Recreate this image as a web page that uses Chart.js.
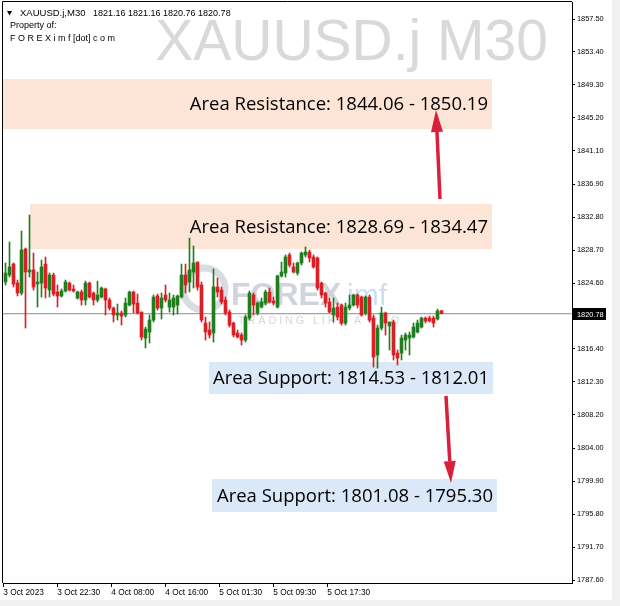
<!DOCTYPE html>
<html>
<head>
<meta charset="utf-8">
<script src="https://cdn.jsdelivr.net/npm/chart.js"></script>
<style>
  html, body { margin: 0; padding: 0; background: #fff; }
  #wrap { width: 620px; height: 606px; }
</style>
</head>
<body>
<div id="wrap"><canvas id="myChart" width="620" height="606"></canvas></div>
<script>
// XAUUSD.j M30 candles
const opens = [
  1824.73, 1825.60, 1826.97, 1824.60, 1823.36, 1828.84, 1825.98, 1826.23, 1824.48, 1824.60,
  1826.97, 1823.73, 1825.60, 1823.48, 1822.99, 1823.61, 1824.60, 1823.86, 1822.74, 1823.48,
  1822.49, 1824.60, 1823.36, 1822.49, 1822.86, 1823.86, 1822.49, 1821.49, 1820.62, 1820.87,
  1820.62, 1821.86, 1823.48, 1822.11, 1820.99, 1817.75, 1818.50, 1819.99, 1822.99, 1821.49,
  1823.11, 1821.61, 1821.61, 1821.86, 1822.86, 1825.60, 1824.73, 1825.98, 1827.22, 1824.36,
  1819.62, 1818.75, 1818.38, 1824.11, 1823.73, 1822.49, 1820.99, 1819.62, 1818.38, 1818.13,
  1817.50, 1820.24, 1823.11, 1820.87, 1821.61, 1822.11, 1823.48, 1822.36, 1821.61, 1825.48,
  1825.85, 1828.10, 1826.60, 1825.85, 1827.10, 1828.10, 1828.47, 1827.85, 1827.72, 1824.60,
  1823.36, 1822.24, 1820.62, 1821.61, 1821.86, 1819.62, 1821.49, 1821.86, 1823.11, 1822.86,
  1820.87, 1822.86, 1820.24, 1815.63, 1819.00, 1820.87, 1819.25, 1819.75, 1815.88, 1815.88,
  1817.50, 1817.75, 1817.88, 1818.50, 1819.12, 1820.24, 1820.24, 1820.24, 1820.12, 1821.16
];
const highs = [
  1827.10, 1829.71, 1827.10, 1824.98, 1831.09, 1828.97, 1833.08, 1828.34, 1825.98, 1827.47,
  1827.85, 1825.85, 1825.85, 1824.36, 1823.86, 1824.98, 1824.73, 1824.36, 1823.61, 1823.73,
  1824.85, 1824.73, 1823.48, 1824.85, 1824.11, 1823.98, 1822.74, 1821.61, 1821.99, 1821.12,
  1822.74, 1823.61, 1823.61, 1823.23, 1820.99, 1819.12, 1820.62, 1823.11, 1823.23, 1823.36,
  1824.36, 1823.36, 1823.11, 1823.11, 1826.97, 1826.97, 1830.21, 1829.22, 1827.22, 1824.73,
  1820.37, 1819.75, 1826.35, 1825.23, 1824.11, 1822.86, 1821.24, 1819.75, 1818.75, 1818.38,
  1820.62, 1823.61, 1823.36, 1822.24, 1822.74, 1823.73, 1823.98, 1822.86, 1825.60, 1827.22,
  1828.10, 1828.34, 1827.10, 1827.22, 1828.47, 1829.09, 1828.72, 1828.10, 1827.85, 1824.73,
  1823.48, 1822.74, 1822.74, 1822.11, 1821.99, 1822.11, 1823.11, 1823.23, 1823.23, 1822.99,
  1822.99, 1823.11, 1820.62, 1819.37, 1821.61, 1820.99, 1819.75, 1819.99, 1816.26, 1818.13,
  1818.38, 1818.50, 1819.62, 1819.99, 1820.37, 1820.37, 1820.49, 1820.49, 1821.36, 1821.16
];
const lows = [
  1824.36, 1825.35, 1824.11, 1822.99, 1823.11, 1819.00, 1825.35, 1823.73, 1821.61, 1822.86,
  1822.74, 1822.86, 1822.99, 1821.61, 1822.86, 1823.48, 1823.61, 1823.48, 1822.61, 1821.86,
  1821.86, 1822.74, 1821.86, 1822.24, 1822.74, 1820.62, 1821.24, 1819.75, 1819.99, 1819.37,
  1820.37, 1821.74, 1820.87, 1820.74, 1817.50, 1816.51, 1817.13, 1819.75, 1821.24, 1820.12,
  1822.24, 1820.99, 1820.62, 1820.74, 1822.74, 1823.36, 1823.48, 1823.98, 1823.73, 1819.75,
  1817.50, 1817.75, 1817.25, 1822.86, 1821.99, 1820.62, 1819.12, 1817.88, 1817.75, 1816.88,
  1817.25, 1819.99, 1820.62, 1820.62, 1821.49, 1821.86, 1822.11, 1821.86, 1821.49, 1825.35,
  1825.35, 1826.60, 1825.85, 1825.60, 1826.85, 1827.85, 1827.22, 1826.47, 1823.73, 1822.74,
  1821.61, 1820.87, 1819.75, 1819.99, 1819.37, 1819.37, 1821.24, 1821.74, 1821.49, 1820.49,
  1820.62, 1819.75, 1814.14, 1814.01, 1818.75, 1818.13, 1816.26, 1815.01, 1814.39, 1815.01,
  1816.26, 1815.63, 1817.75, 1818.38, 1819.00, 1819.62, 1819.75, 1819.12, 1819.99, 1820.76
];
const closes = [
  1825.85, 1826.60, 1824.48, 1823.36, 1828.72, 1825.98, 1826.23, 1824.11, 1824.73, 1826.60,
  1823.98, 1825.60, 1823.23, 1822.99, 1823.61, 1824.73, 1823.73, 1823.61, 1823.48, 1822.49,
  1824.60, 1822.86, 1822.49, 1823.11, 1823.98, 1822.49, 1821.49, 1820.62, 1820.87, 1820.49,
  1822.11, 1823.48, 1821.99, 1820.87, 1817.88, 1818.87, 1819.99, 1822.86, 1821.49, 1822.74,
  1822.49, 1822.49, 1822.74, 1822.99, 1825.60, 1824.36, 1826.23, 1827.10, 1824.11, 1819.99,
  1818.50, 1818.13, 1824.11, 1823.48, 1822.24, 1820.87, 1819.37, 1818.13, 1817.88, 1817.50,
  1820.37, 1823.36, 1821.86, 1822.11, 1822.24, 1823.48, 1822.24, 1822.11, 1825.48, 1825.98,
  1827.85, 1826.85, 1825.98, 1827.10, 1828.34, 1828.47, 1827.72, 1826.60, 1823.98, 1823.11,
  1822.11, 1820.99, 1821.49, 1820.37, 1819.62, 1821.61, 1821.86, 1823.11, 1821.86, 1820.62,
  1822.86, 1819.99, 1815.38, 1819.00, 1820.87, 1819.62, 1819.75, 1815.63, 1815.26, 1817.75,
  1818.13, 1818.13, 1819.12, 1819.62, 1820.24, 1819.87, 1819.87, 1819.62, 1821.12, 1820.78
];

const timeLabels = ['3 Oct 2023', '3 Oct 22:30', '4 Oct 08:00', '4 Oct 16:00', '5 Oct 01:30', '5 Oct 09:30', '5 Oct 17:30'];
const priceTicks = [1787.60, 1791.70, 1795.80, 1799.90, 1804.00, 1808.20, 1812.30, 1816.40,
  1824.60, 1828.70, 1832.80, 1836.90, 1841.10, 1845.20, 1849.30, 1853.40, 1857.50];

// drawn zones (as placed on the screenshot) and their captions
const zoneLabels = ['Area Resistance: 1844.06 - 1850.19', 'Area Resistance: 1828.69 - 1834.47',
  'Area Support: 1814.53 - 1812.01', 'Area Support: 1801.08 - 1795.30'];
const zoneKinds = ['res', 'res', 'sup', 'sup'];
const zoneTops = [1850.02, 1834.45, 1814.76, 1800.18];
const zoneBottoms = [1843.79, 1828.84, 1810.78, 1796.07];
const zoneFrom = [-0.625, 6.125, 50.875, 51.625];
const zoneTo = [121.625, 121.625, 121.875, 122.875];

// arrows: [bar index, price] tail -> head
const arrowTails = [[108.625, 1835.07], [110.125, 1810.53]];
const arrowHeads = [[107.625, 1846.16], [111.375, 1799.69]];

const X_MIN = -0.625, X_MAX = 141.625;
const Y_MIN = 1787.23, Y_MAX = 1859.62;
const UP = '#1f7f1f', DOWN = '#dc1f26';
const AXIS_FONT = '"Liberation Sans"';

const last = closes.length - 1;
const candleColors = opens.map((o, i) => closes[i] >= o ? UP : DOWN);

const backdrop = {
  id: 'backdrop',
  beforeDraw(chart) {
    const ctx = chart.ctx;
    ctx.save();
    ctx.fillStyle = '#fff';
    ctx.fillRect(0, 0, chart.width, chart.height);
    ctx.restore();
  },
  beforeDatasetsDraw(chart) {
    const { ctx, scales: { x, y } } = chart;
    ctx.save();
    // symbol watermark
    ctx.fillStyle = '#d9d9d9';
    ctx.font = '57px "Liberation Sans"';
    ctx.textAlign = 'right';
    ctx.textBaseline = 'alphabetic';
    ctx.fillText('XAUUSD.j M30', 548, 60);
    // logo watermark
    ctx.strokeStyle = '#d8dce3';
    ctx.lineWidth = 7;
    ctx.beginPath();
    ctx.arc(204, 289, 21, 0.55 * Math.PI, 2.35 * Math.PI);
    ctx.stroke();
    ctx.textAlign = 'left';
    ctx.font = 'bold 32px "Liberation Sans"';
    ctx.fillStyle = '#d0d4dc';
    ctx.fillText('FOREX', 231, 305);
    ctx.font = '30px "Liberation Sans"';
    ctx.fillStyle = '#cadff0';
    ctx.fillText('imf', 347, 305);
    ctx.font = '11px "Liberation Sans"';
    ctx.letterSpacing = '2.8px';
    ctx.fillStyle = '#d8d8d8';
    ctx.fillText('TRADING LIKE A PRO', 238, 324);
    ctx.letterSpacing = '0px';
    // zones
    zoneTops.forEach((top, k) => {
      const x0 = x.getPixelForValue(zoneFrom[k]);
      const x1 = x.getPixelForValue(zoneTo[k]);
      const y0 = y.getPixelForValue(top);
      const y1 = y.getPixelForValue(zoneBottoms[k]);
      ctx.fillStyle = zoneKinds[k] === 'res' ? '#fce4d6' : '#dae8f7';
      ctx.fillRect(x0, y0, x1 - x0, y1 - y0);
    });
    ctx.restore();
  }
};

const overlay = {
  id: 'overlay',
  afterDatasetsDraw(chart) {
    const { ctx, scales: { x, y } } = chart;
    ctx.save();
    // zone captions
    ctx.fillStyle = '#000';
    ctx.font = '18.5px "Open Sans"';
    ctx.textAlign = 'right';
    ctx.textBaseline = 'middle';
    zoneLabels.forEach((txt, k) => {
      const x1 = x.getPixelForValue(zoneTo[k]);
      const ym = (y.getPixelForValue(zoneTops[k]) + y.getPixelForValue(zoneBottoms[k])) / 2;
      ctx.fillText(txt, x1 - 4, ym + 1);
    });
    // arrows
    ctx.fillStyle = '#d81f3b';
    ctx.strokeStyle = '#d81f3b';
    arrowTails.forEach((t, k) => {
      const hx = x.getPixelForValue(arrowHeads[k][0]), hy = y.getPixelForValue(arrowHeads[k][1]);
      const tx = x.getPixelForValue(t[0]), ty = y.getPixelForValue(t[1]);
      const ang = Math.atan2(hy - ty, hx - tx);
      const len = 22, half = 6;
      const bx = hx - len * Math.cos(ang), by = hy - len * Math.sin(ang);
      ctx.lineWidth = 3.5;
      ctx.beginPath();
      ctx.moveTo(tx, ty);
      ctx.lineTo(bx, by);
      ctx.stroke();
      ctx.beginPath();
      ctx.moveTo(hx, hy);
      ctx.lineTo(bx + half * Math.sin(ang), by - half * Math.cos(ang));
      ctx.lineTo(bx - half * Math.sin(ang), by + half * Math.cos(ang));
      ctx.closePath();
      ctx.fill();
    });
    ctx.restore();
  },
  afterDraw(chart) {
    const { ctx, chartArea, scales: { y } } = chart;
    ctx.save();
    // left / top frame lines
    ctx.strokeStyle = '#000';
    ctx.lineWidth = 1;
    ctx.beginPath();
    ctx.moveTo(chartArea.left - 0.5, chartArea.bottom);
    ctx.lineTo(chartArea.left - 0.5, chartArea.top - 0.5);
    ctx.lineTo(chartArea.right, chartArea.top - 0.5);
    ctx.stroke();
    // header
    ctx.fillStyle = '#000';
    ctx.textAlign = 'left';
    ctx.textBaseline = 'alphabetic';
    ctx.beginPath();
    ctx.moveTo(7, 11); ctx.lineTo(12, 11); ctx.lineTo(9.5, 15.5); ctx.closePath();
    ctx.fill();
    ctx.font = '9.5px "Liberation Sans"';
    ctx.fillText('XAUUSD.j,M30', 20, 16);
    ctx.font = '9px "Liberation Sans"';
    ctx.fillText([opens[last], highs[last], lows[last], closes[last]].map(v => v.toFixed(2)).join(' '), 93, 16);
    ctx.fillText('Property of:', 10, 28);
    ctx.fillText('F O R E X i m f [dot] c o m', 10, 41);
    // last price tag
    const py = y.getPixelForValue(closes[last]);
    ctx.fillStyle = '#000';
    ctx.fillRect(573, Math.round(py) - 6, 33, 12);
    ctx.fillStyle = '#fff';
    ctx.font = '7.4px ' + AXIS_FONT;
    ctx.textBaseline = 'middle';
    ctx.fillText(closes[last].toFixed(2), 577, Math.round(py) + 0.5);
    // window frame
    ctx.fillStyle = '#f0f0f0';
    ctx.fillRect(612, 0, 8, 606);
    ctx.fillRect(0, 600, 620, 6);
    ctx.restore();
  }
};

const data = {
  datasets: [
    {
      type: 'line',
      data: [{ x: X_MIN, y: closes[last] }, { x: X_MAX, y: closes[last] }],
      borderColor: '#8c8c8c',
      borderWidth: 1,
      pointRadius: 0,
      order: 3
    },
    {
      label: 'wicks',
      data: lows.map((l, i) => ({ x: i, y: [l, highs[i]] })),
      backgroundColor: candleColors,
      barThickness: 1,
      grouped: false,
      order: 2
    },
    {
      label: 'bodies',
      data: opens.map((o, i) => ({ x: i, y: [o, closes[i]] })),
      backgroundColor: candleColors,
      barThickness: 3,
      minBarLength: 1,
      grouped: false,
      order: 1
    }
  ]
};

const config = {
  type: 'bar',
  data: data,
  options: {
    responsive: false,
    animation: false,
    devicePixelRatio: 1,
    layout: { padding: { left: 3, top: 2, right: 0, bottom: 0 } },
    plugins: { legend: { display: false }, tooltip: { enabled: false } },
    scales: {
      x: {
        type: 'linear',
        min: X_MIN,
        max: X_MAX,
        offset: false,
        grid: { offset: false, drawOnChartArea: false, tickLength: 4, color: '#000' },
        border: { color: '#000' },
        ticks: {
          autoSkip: false,
          align: 'start',
          maxRotation: 0,
          padding: 1,
          color: '#000',
          font: { family: AXIS_FONT, size: 8.3 },
          callback: (v, i) => timeLabels[i]
        },
        afterBuildTicks: s => { s.ticks = timeLabels.map((t, k) => ({ value: -0.55 + k * 13.5 })); },
        afterFit: s => { s.height = 23; s.paddingLeft = 0; s.paddingRight = 0; }
      },
      y: {
        position: 'right',
        min: Y_MIN,
        max: Y_MAX,
        grid: { drawOnChartArea: false, tickLength: 3, color: '#000' },
        border: { color: '#000' },
        ticks: {
          autoSkip: false,
          padding: 2,
          color: '#000',
          font: { family: AXIS_FONT, size: 7.4 },
          callback: v => Number(v).toFixed(2)
        },
        afterBuildTicks: s => { s.ticks = priceTicks.map(v => ({ value: v })); },
        afterFit: s => { s.width = 48; s.paddingTop = 0; s.paddingBottom = 0; }
      }
    }
  },
  plugins: [backdrop, overlay]
};

var myChart = new Chart(document.getElementById('myChart'), config);
</script>
</body>
</html>
